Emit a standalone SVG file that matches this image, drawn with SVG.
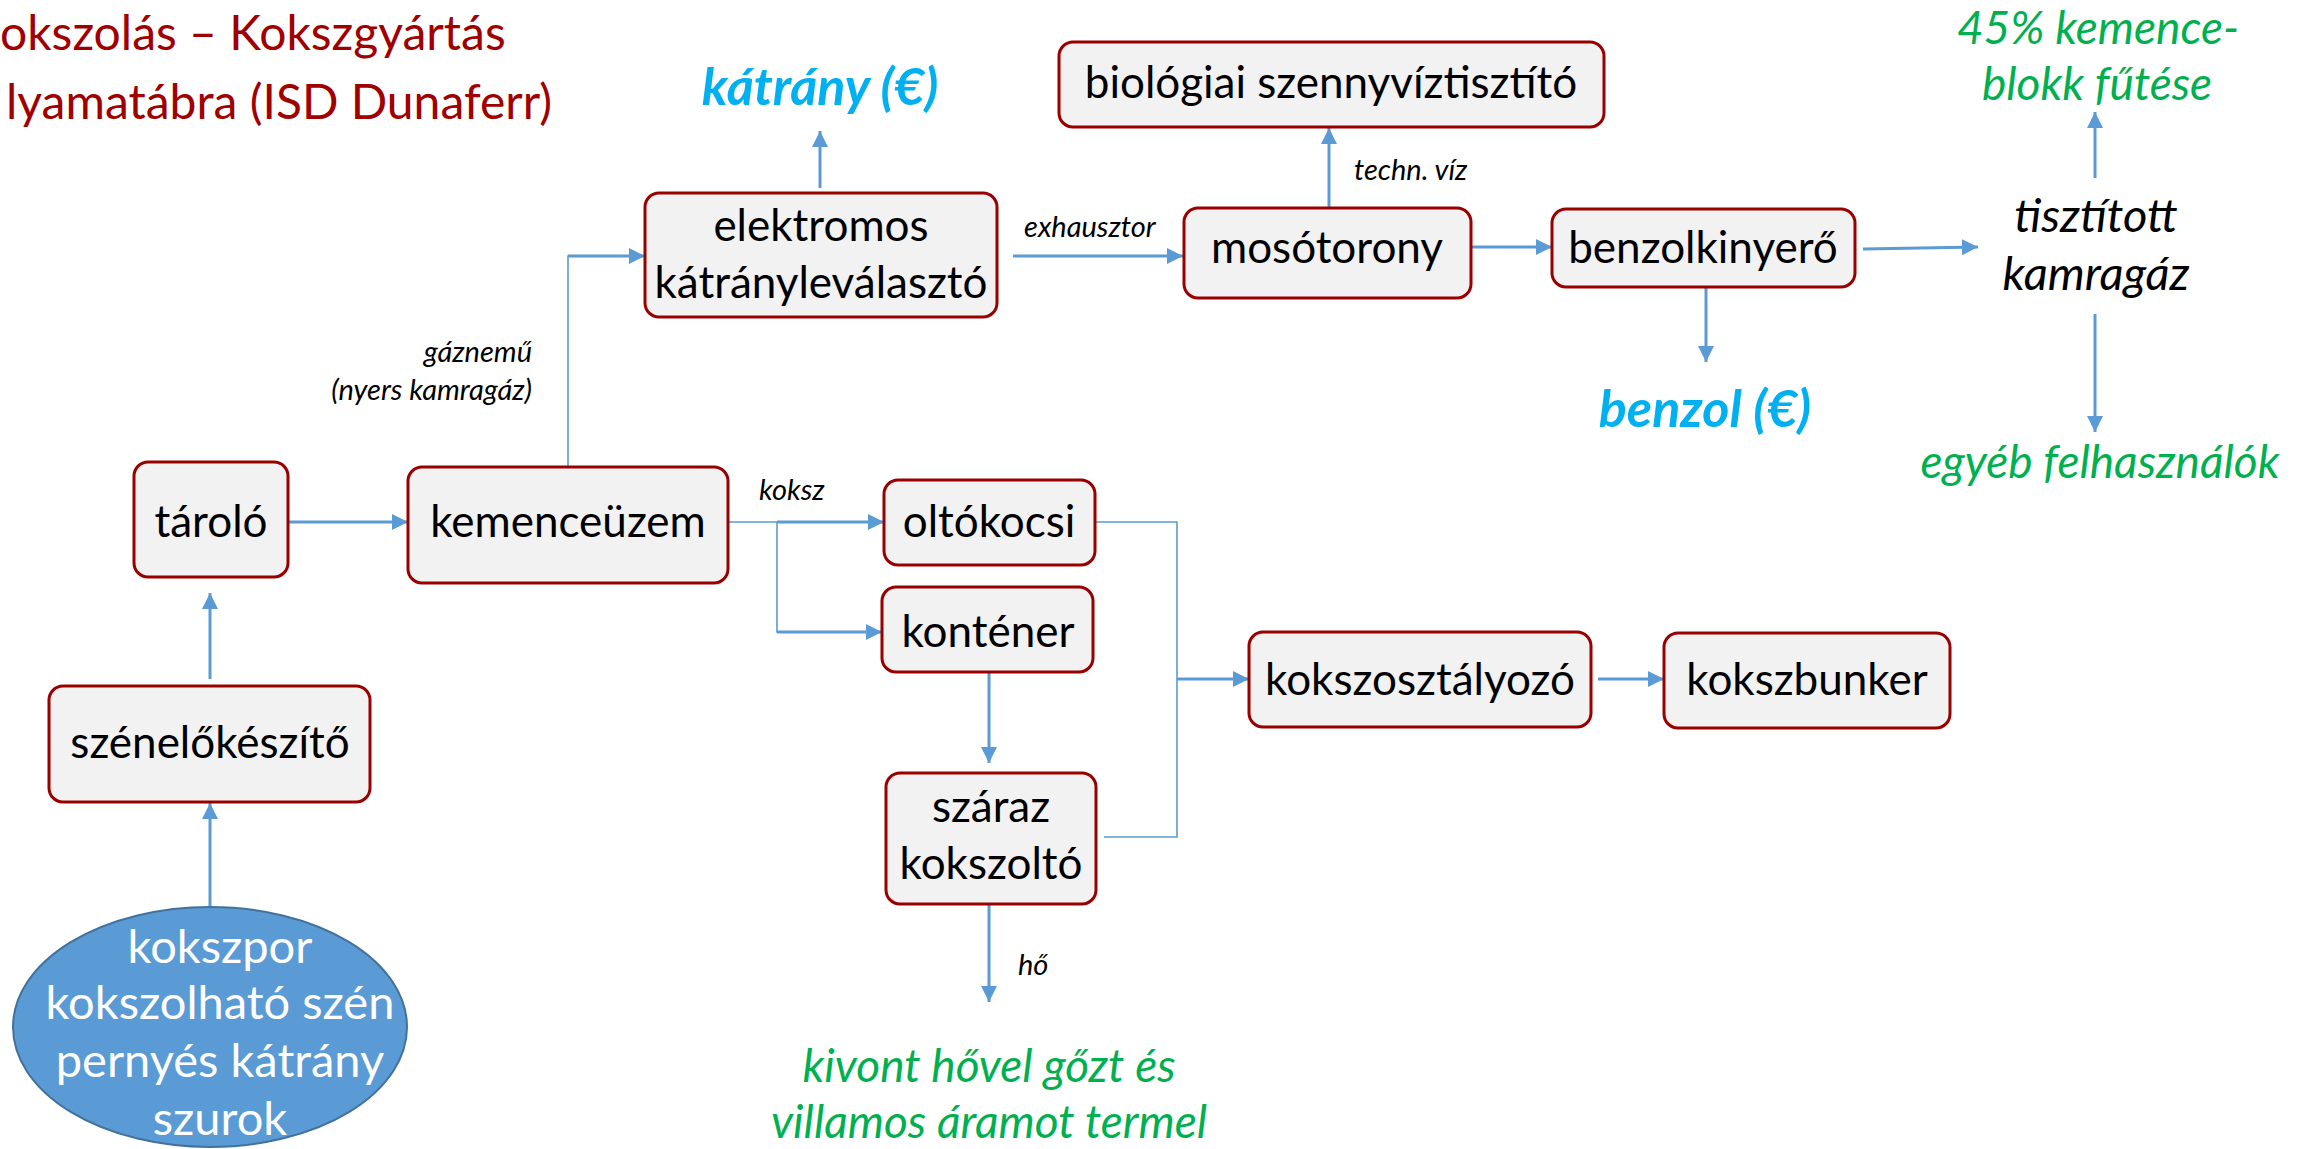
<svg xmlns="http://www.w3.org/2000/svg" width="2313" height="1149" viewBox="0 0 2313 1149">
<style>
.box{fill:#F2F2F2;stroke:#990000;stroke-width:3}
.lbl{font-family:Lato,"Liberation Sans",sans-serif;font-size:44px;fill:#000;text-anchor:middle}
.it{font-family:Lato,"Liberation Sans",sans-serif;font-style:italic;font-size:29px;fill:#000}
.green{font-family:Lato,"Liberation Sans",sans-serif;font-style:italic;font-size:46px;fill:#00B050;text-anchor:middle}
.cyan{font-family:Lato,"Liberation Sans",sans-serif;font-style:italic;font-weight:bold;font-size:52px;fill:#00B0F0;text-anchor:middle}
.big{font-family:Lato,"Liberation Sans",sans-serif;font-style:italic;font-size:47px;fill:#000;text-anchor:middle}
.title{font-family:Lato,"Liberation Sans",sans-serif;font-size:48px;fill:#A00000}
.ell{font-family:Lato,"Liberation Sans",sans-serif;font-size:47px;fill:#fff;text-anchor:middle}
.a{fill:none;stroke:#5B9BD5;stroke-width:3;marker-end:url(#ah)}
.t{fill:none;stroke:#5B9BD5;stroke-width:1.6}
</style>
<defs>
<marker id="ah" markerUnits="userSpaceOnUse" markerWidth="18" markerHeight="16" refX="16" refY="8" orient="auto">
<path d="M0,0 L16,8 L0,16 Z" fill="#5B9BD5"/>
</marker>
</defs>
<rect width="2313" height="1149" fill="#fff"/>
<g id="title">
<text class="title" x="0" y="50">okszolás – Kokszgyártás</text>
<text class="title" x="6" y="119">lyamatábra (ISD Dunaferr)</text>
</g>
<g id="connectors">
<line class="a" x1="210" y1="907" x2="210" y2="803"/>
<line class="a" x1="210" y1="679" x2="210" y2="593"/>
<line class="a" x1="288" y1="522" x2="408" y2="522"/>
<polyline class="t" points="568,467 568,256 600,256"/>
<line class="a" x1="568" y1="256" x2="645" y2="256"/>
<line class="a" x1="820" y1="188" x2="820" y2="131"/>
<line class="a" x1="1013" y1="256" x2="1183" y2="256"/>
<line class="a" x1="1329" y1="208" x2="1329" y2="128"/>
<line class="a" x1="1471" y1="247" x2="1552" y2="247"/>
<line class="a" x1="1863" y1="249" x2="1978" y2="247"/>
<line class="a" x1="2095" y1="178" x2="2095" y2="112"/>
<line class="a" x1="2095" y1="314" x2="2095" y2="432"/>
<line class="a" x1="1706" y1="287" x2="1706" y2="362"/>
<polyline class="t" points="728,522 777,522 777,632 800,632"/>
<line class="a" x1="777" y1="522" x2="884" y2="522"/>
<line class="a" x1="777" y1="632" x2="882" y2="632"/>
<polyline class="t" points="1095,522 1177,522 1177,837 1104,837"/>
<line class="a" x1="1177" y1="679" x2="1249" y2="679"/>
<line class="a" x1="989" y1="672" x2="989" y2="763"/>
<line class="a" x1="1598" y1="679" x2="1664" y2="679"/>
<line class="a" x1="989" y1="904" x2="989" y2="1002"/>
</g>
<g id="elektromos">
<rect class="box" x="645" y="193" width="352" height="124" rx="14"/>
<text class="lbl" x="821" y="241">elektromos</text>
<text class="lbl" x="821" y="298">kátrányleválasztó</text>
</g>
<g id="biologiai">
<rect class="box" x="1059" y="42" width="545" height="85" rx="14"/>
<text class="lbl" x="1331" y="98">biológiai szennyvíztisztító</text>
</g>
<g id="mosotorony">
<rect class="box" x="1184" y="208" width="287" height="90" rx="14"/>
<text class="lbl" x="1327" y="263">mosótorony</text>
</g>
<g id="benzolkinyero">
<rect class="box" x="1552" y="209" width="303" height="78" rx="14"/>
<text class="lbl" x="1703" y="263">benzolkinyerő</text>
</g>
<g id="taroló">
<rect class="box" x="134" y="462" width="154" height="115" rx="14"/>
<text class="lbl" x="211" y="537">tároló</text>
</g>
<g id="kemenceuzem">
<rect class="box" x="408" y="467" width="320" height="116" rx="14"/>
<text class="lbl" x="568" y="537">kemenceüzem</text>
</g>
<g id="oltokocsi">
<rect class="box" x="884" y="480" width="211" height="85" rx="14"/>
<text class="lbl" x="989" y="537">oltókocsi</text>
</g>
<g id="kontener">
<rect class="box" x="882" y="587" width="211" height="85" rx="14"/>
<text class="lbl" x="988" y="647">konténer</text>
</g>
<g id="szenelokeszito">
<rect class="box" x="49" y="686" width="321" height="116" rx="14"/>
<text class="lbl" x="210" y="758">szénelőkészítő</text>
</g>
<g id="kokszosztalyozo">
<rect class="box" x="1249" y="632" width="342" height="95" rx="14"/>
<text class="lbl" x="1420" y="695">kokszosztályozó</text>
</g>
<g id="kokszbunker">
<rect class="box" x="1664" y="633" width="286" height="95" rx="14"/>
<text class="lbl" x="1807" y="695">kokszbunker</text>
</g>
<g id="szaraz">
<rect class="box" x="886" y="773" width="210" height="131" rx="14"/>
<text class="lbl" x="991" y="822">száraz</text>
<text class="lbl" x="991" y="879">kokszoltó</text>
</g>
<g id="alapanyag">
<ellipse cx="210" cy="1027" rx="197" ry="120" fill="#5B9BD5" stroke="#41719C" stroke-width="2"/>
<text class="ell" x="220" y="963">kokszpor</text>
<text class="ell" x="220" y="1019">kokszolható szén</text>
<text class="ell" x="220" y="1077">pernyés kátrány</text>
<text class="ell" x="220" y="1135">szurok</text>
</g>
<g id="outputs">
<text class="cyan" x="820" y="105">kátrány (€)</text>
<text class="cyan" x="1705" y="427">benzol (€)</text>
<text class="big" x="2096" y="232">tisztított</text>
<text class="big" x="2096" y="290">kamragáz</text>
<text class="green" x="2098" y="44">45% kemence-</text>
<text class="green" x="2097" y="100">blokk fűtése</text>
<text class="green" x="2100" y="478">egyéb felhasználók</text>
<text class="green" x="989" y="1082">kivont hővel gőzt és</text>
<text class="green" x="989" y="1138">villamos áramot termel</text>
</g>
<g id="labels">
<text class="it" x="1024" y="237">exhausztor</text>
<text class="it" x="1354" y="180">techn. víz</text>
<text class="it" x="532" y="362" text-anchor="end">gáznemű</text>
<text class="it" x="532" y="400" text-anchor="end">(nyers kamragáz)</text>
<text class="it" x="759" y="500">koksz</text>
<text class="it" x="1018" y="975">hő</text>
</g>
</svg>
